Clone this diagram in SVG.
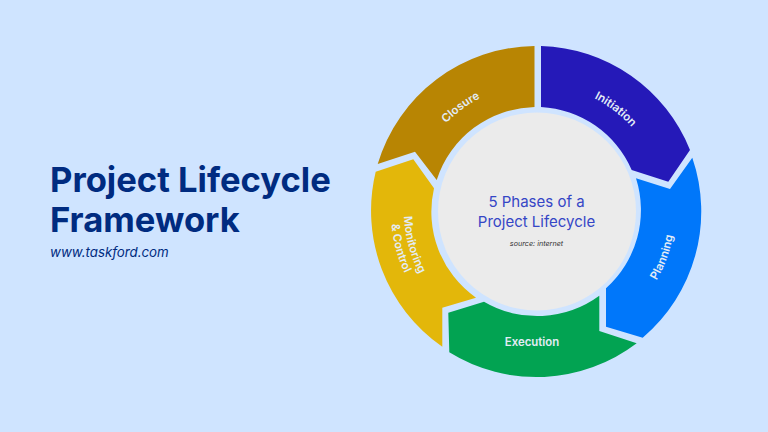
<svg xmlns="http://www.w3.org/2000/svg" width="768" height="432" viewBox="0 0 768 432">
<style>
.lbl{font-family:"Inter","Liberation Sans",sans-serif;font-weight:600;font-size:11.4px;fill:#e3ecf6;text-anchor:middle}
.t{font-family:"Inter","Liberation Sans",sans-serif;font-weight:700;font-size:34.6px;fill:#002b80}
.c{font-family:"Inter","Liberation Sans",sans-serif;font-size:15px;fill:#3546c6;text-anchor:middle}
</style>
<defs>
<path id="a1" d="M413.9 182A127 127 0 0 1 545.9 84.8"/>
<path id="a2" d="M529.3 84.7A127 127 0 0 1 660.5 183"/>
<path id="a3" d="M606 331A138 138 0 0 0 666.7 164.3"/>
<path id="a5" d="M416.5 155.3A133 133 0 0 0 460.7 320.4"/>
<path id="a6" d="M404.7 149.8A146 146 0 0 0 453.2 331.1"/>
</defs>
<rect width="768" height="432" fill="#cfe4ff"/>
<g id="title">
<text class="t" x="50" y="191.5">Project Lifecycle</text>
<text class="t" x="50" y="232">Framework</text>
<text x="50" y="257" font-family="Inter,'Liberation Sans',sans-serif" font-style="italic" font-size="13.3px" fill="#002b80">www.taskford.com</text>
</g>
<g id="closure">
<path fill="#b88503" d="M534.5 46V107A105 105 0 0 0 436.7 180L415 151.7L377.7 164A165.5 165.5 0 0 1 534.5 46Z"/>
<text class="lbl"><textPath href="#a1" startOffset="50%">Closure</textPath></text>
</g>
<g id="initiation">
<path fill="#2519b8" d="M541 46A165.5 165.5 0 0 1 690 150L668.3 181.7L631.7 170A105 105 0 0 0 541 107Z"/>
<text class="lbl"><textPath href="#a2" startOffset="51%">Initiation</textPath></text>
</g>
<g id="planning">
<path fill="#0077fa" d="M692.3 157.7A165.5 165.5 0 0 1 642.7 337.7L606 326.7V288.3A105 105 0 0 0 636 178.3L670 189Z"/>
<text class="lbl"><textPath href="#a3" startOffset="50%">Planning</textPath></text>
</g>
<g id="execution">
<path fill="#02a352" d="M636.7 343.3A165.5 165.5 0 0 1 449.3 352.3L448.3 312.7L484 301.7A105 105 0 0 0 599.3 295.7V331Z"/>
<text class="lbl" x="532" y="346">Execution</text>
</g>
<g id="monitoring">
<path fill="#e3b70a" d="M375.7 171.7L413.3 159.3L434 188.3A105 105 0 0 0 476 297.7L442.3 307.7V346.7A165.5 165.5 0 0 1 375.7 171.7Z"/>
<text class="lbl"><textPath href="#a5" startOffset="50%">Monitoring</textPath></text>
<text class="lbl"><textPath href="#a6" startOffset="50%">&amp; Control</textPath></text>
</g>
<g id="center">
<circle cx="537" cy="211.5" r="99" fill="#ebebeb"/>
<text class="c" x="536.5" y="206.5">5 Phases of a</text>
<text class="c" x="536.5" y="227">Project Lifecycle</text>
<text x="536.5" y="246" text-anchor="middle" font-family="Inter,'Liberation Sans',sans-serif" font-style="italic" font-size="7.2px" fill="#333">source: internet</text>
</g>
</svg>
